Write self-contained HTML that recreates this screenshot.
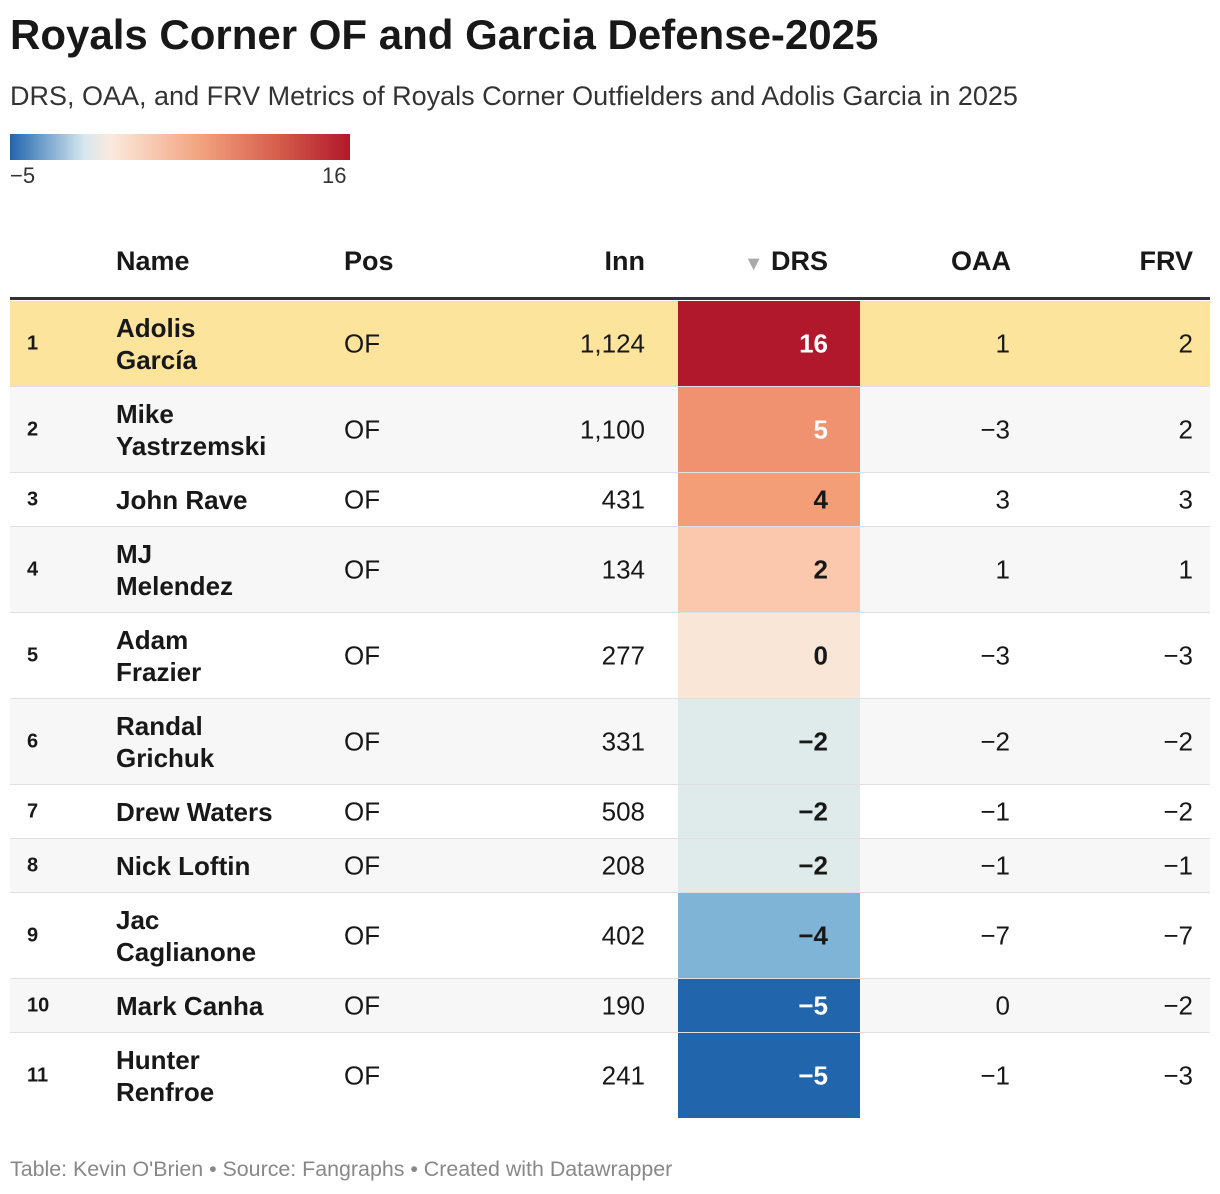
<!DOCTYPE html>
<html><head><meta charset="utf-8">
<style>
body{margin:0;width:1220px;height:1194px;background:#fff;font-family:"Liberation Sans",sans-serif;color:#181818;position:relative;overflow:hidden}
.abs{position:absolute}
#title{left:10px;top:11px;font-size:42px;font-weight:bold;letter-spacing:0}
#subtitle{left:10px;top:81px;font-size:27px;color:#333}
#legend-bar{left:10px;top:134px;width:340px;height:26px;background:linear-gradient(90deg,#2166ac 0%,#d8e8ee 22%,#fbe9dc 30%,#f4a582 55%,#d6604d 78%,#b2182b 100%)}
.leg{top:163px;font-size:22px;color:#333}
.hdr{top:246px;font-size:27px;font-weight:bold}
.row{position:absolute;left:10px;width:1200px;border-bottom:1px solid #e0e0e0;font-size:26px}
.row.last{border-bottom:none}
.row div{position:absolute;top:50%;transform:translateY(-50%)}
.rank{left:17px;font-size:20px;font-weight:bold}
.name{left:106px;font-weight:bold;line-height:32px}
.pos{left:334px}
.inn{right:565px;text-align:right}
.drs{left:668px;width:182px;top:0!important;transform:none!important;height:100%;font-weight:bold}
.drs span{position:absolute;right:32px;top:50%;transform:translateY(-50%)}
.oaa{right:200px}
.frv{right:17px}
#footer{left:10px;top:1157px;font-size:21.4px;color:#888}
</style></head><body>
<div id="title" class="abs">Royals Corner OF and Garcia Defense-2025</div>
<div id="subtitle" class="abs">DRS, OAA, and FRV Metrics of Royals Corner Outfielders and Adolis Garcia in 2025</div>
<div id="legend-bar" class="abs"></div>
<div class="abs leg" style="left:10px">−5</div>
<div class="abs leg" style="left:322px">16</div>
<div class="abs hdr" style="left:116px">Name</div>
<div class="abs hdr" style="left:344px">Pos</div>
<div class="abs hdr" style="right:575px">Inn</div>
<div class="abs hdr" style="right:392px"><span style="color:#aaa;font-size:20px">▼</span> DRS</div>
<div class="abs hdr" style="right:209px">OAA</div>
<div class="abs hdr" style="right:27px">FRV</div>
<div class="abs" style="left:10px;top:297px;width:1200px;height:3px;background:#333"></div>
<div id="table"></div>
<div id="footer" class="abs">Table: Kevin O'Brien • Source: Fangraphs • Created with Datawrapper</div>
<script>
const names=["Adolis<br>García","Mike<br>Yastrzemski","John Rave","MJ<br>Melendez","Adam<br>Frazier","Randal<br>Grichuk","Drew Waters","Nick Loftin","Jac<br>Caglianone","Mark Canha","Hunter<br>Renfroe"];
const innings=["1,124","1,100","431","134","277","331","508","208","402","190","241"];
const drs=[16,5,4,2,0,-2,-2,-2,-4,-5,-5];
const oaa=[1,-3,3,1,-3,-2,-1,-1,-7,0,-1];
const frv=[2,2,3,1,-3,-2,-2,-1,-7,-2,-3];
const stops=[[-5,[33,102,172]],[-4,[127,180,214]],[-2,[223,235,235]],[0,[249,230,214]],[2,[251,200,174]],[4,[243,158,118]],[5,[240,146,112]],[16,[178,24,43]]];
function color(v){for(let i=0;i<stops.length-1;i++){const a=stops[i],b=stops[i+1];if(v<=b[0]){const t=(v-a[0])/(b[0]-a[0]);return 'rgb('+a[1].map((c,k)=>Math.round(c+(b[1][k]-c)*t)).join(',')+')';}}return 'rgb(178,24,43)';}
const fmt=v=>String(v).replace('-','−');
const tb=document.getElementById('table');
let y=301;
names.forEach((n,i)=>{
  const h=n.includes('<br>')?86:54;
  const r=document.createElement('div');
  
  
  r.className='row'+(i===names.length-1?' last':'');
  r.style.top=y+'px';r.style.height=(h-1)+'px';
  r.style.background=i===0?'#fde49c':(i%2===1?'#f7f7f7':'#fff');
  const dark=drs[i]>=5||drs[i]<=-5;
  r.innerHTML='<div class="rank">'+(i+1)+'</div><div class="name">'+n+'</div><div class="pos">OF</div><div class="inn">'+innings[i]+'</div><div class="drs" style="background:'+color(drs[i])+';color:'+(dark?'#fff':'#181818')+'"><span>'+fmt(drs[i])+'</span></div><div class="oaa">'+fmt(oaa[i])+'</div><div class="frv">'+fmt(frv[i])+'</div>';
  tb.appendChild(r);
  y+=h;
});
</script>
</body></html>
